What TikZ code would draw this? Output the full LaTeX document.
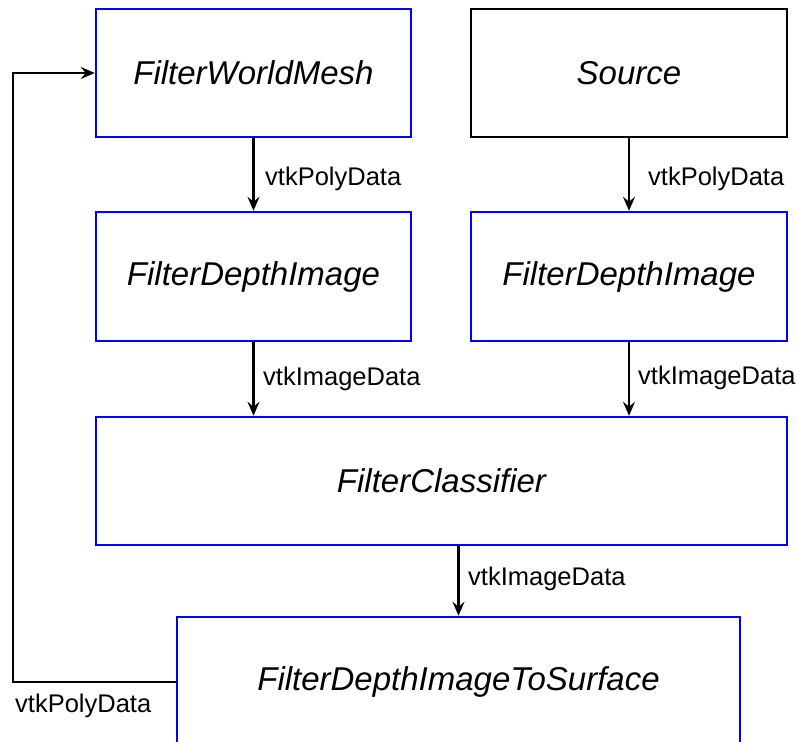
\documentclass[tikz,border=0pt]{standalone}
\usepackage{fontspec}
\setmainfont{Liberation Sans}
\usetikzlibrary{arrows.meta}
\definecolor{boxblue}{RGB}{0,0,255}
\tikzset{
  box/.style={draw=boxblue, line width=2.5pt, inner sep=0pt, minimum width=315pt, minimum height=128pt,
    font=\itshape\fontsize{33}{39}\selectfont},
  blackbox/.style={box, draw=black},
  flow/.style={line width=2.5pt, -{Stealth[length=14pt,width=12pt,inset=5pt]}},
  lbl/.style={anchor=base west, inner sep=0pt, font=\fontsize{25.5}{30}\selectfont}
}
\begin{document}
\begin{tikzpicture}[x=1pt,y=-1pt]
\useasboundingbox (0,0) rectangle (799,741);
\clip (0,0) rectangle (799,741);
\node[box] (wm) at (253.5,73) {FilterWorldMesh};
\node[blackbox, minimum width=316pt] (src) at (629,73) {Source};
\node[box, minimum height=129pt] (dl) at (253.5,276.5) {FilterDepthImage};
\node[box, minimum width=316pt, minimum height=129pt] (dr) at (629,276.5) {FilterDepthImage};
\node[box, minimum width=691pt] (cl) at (441.5,481) {FilterClassifier};
\node[box, minimum width=563pt, minimum height=130pt] (surf) at (458.5,682) {FilterDepthImageToSurface};
\coordinate (lp) at (13,0);

\draw[flow] (wm.south) -- (dl.north);
\draw[flow] (src.south) -- (dr.north);
\draw[flow] (dl.south) -- (dl.south |- cl.north);
\draw[flow] (dr.south) -- (dr.south |- cl.north);
\draw[flow] (surf.north |- cl.south) -- (surf.north);
\draw[flow] (surf.west) -- (surf.west -| lp) |- (wm.west);

\node[lbl] (l1) at (265,185) {vtkPolyData};
\node[lbl] (l2) at (648,185) {vtkPolyData};
\node[lbl] (l3) at (263,385) {vtkImageData};
\node[lbl] (l4) at (638,384) {vtkImageData};
\node[lbl] (l5) at (468,585) {vtkImageData};
\node[lbl] (l6) at (15,712) {vtkPolyData};
\end{tikzpicture}
\end{document}
